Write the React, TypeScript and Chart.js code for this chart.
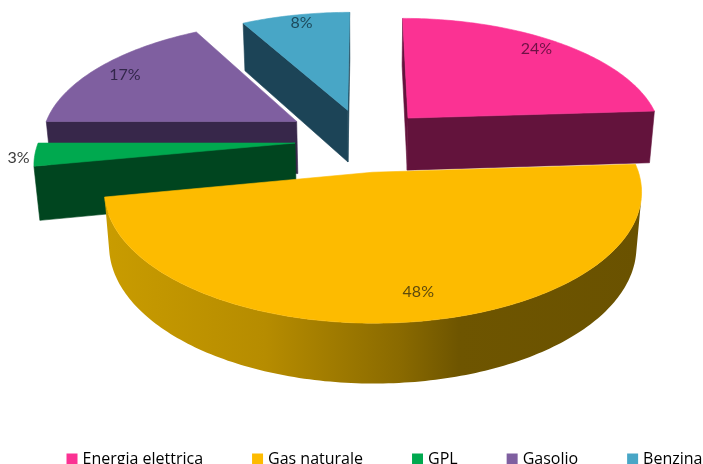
import React, { useEffect, useRef } from "react";
import { Chart, registerables } from "chart.js";

Chart.register(...registerables);

const categories = ["Energia elettrica", "Gas naturale", "GPL", "Gasolio", "Benzina"];
const shares = [24, 48, 3, 17, 8];

const topColors = ["#fb3293", "#fdbb00", "#00a94f", "#7f5fa0", "#48a6c6"];
const wallColors = ["#63133c", "#6a5200", "#00451f", "#37274a", "#1c4457"];
const labelColors = ["#6e1145", "#5e4a0c", "#3c3c3c", "#32264a", "#1d4a5c"];

// How far each slice is pulled out of the pie.
const explode = [66, 67, 69, 80, 68];

// Where each percentage sits along its slice, as a fraction of the radius,
// plus a small angular nudge in degrees.
const labelRadii = [0.884, 0.83, 1.06, 0.86, 0.905];
const labelNudges = [-2.3, -3, -1, -0.4, 0.5];

const TILT = Math.asin(0.467);
const FOCAL = 1603;
const WORLD_RADIUS = 256;
const THICKNESS = 61;
const PAN_X = -22;
const PAN_Y = -59.5;

type Pt = [number, number];

const pie3d = {
  id: "pie3d",
  beforeDatasetDraw(chart: any, args: any) {
    const ctx: CanvasRenderingContext2D = chart.ctx;
    const area = chart.chartArea;
    const camX = (area.left + area.right) / 2 + PAN_X;
    const camY = (area.top + area.bottom) / 2 + PAN_Y;
    const sinT = Math.sin(TILT);
    const cosT = Math.cos(TILT);

    const project = (x: number, y: number, z: number): Pt => {
      const up = y * sinT + z * cosT;
      const depth = y * cosT - z * sinT;
      const s = FOCAL / (FOCAL + depth);
      return [camX + x * s, camY - up * s];
    };

    const fillPoly = (pts: Pt[], color: any, edge = 0.6) => {
      ctx.beginPath();
      pts.forEach((p, i) => (i ? ctx.lineTo(p[0], p[1]) : ctx.moveTo(p[0], p[1])));
      ctx.closePath();
      ctx.fillStyle = color;
      ctx.fill();
      if (edge > 0) {
        ctx.strokeStyle = color;
        ctx.lineWidth = edge;
        ctx.stroke();
      }
    };

    const faces = (pts: Pt[]) => {
      let sum = 0;
      pts.forEach((p, i) => {
        const q = pts[(i + 1) % pts.length];
        sum += p[0] * q[1] - q[0] * p[1];
      });
      return sum < 0;
    };

    const slices = args.meta.data.map((arc: any, index: number) => {
      const { startAngle, endAngle } = arc.getProps(["startAngle", "endAngle"]);
      const mid = (startAngle + endAngle) / 2;
      const push = arc.options.offset;
      return {
        index,
        startAngle,
        endAngle,
        ox: Math.cos(mid) * push,
        oy: -Math.sin(mid) * push,
      };
    });

    // Painted from the far side of the pie towards the viewer.
    slices.sort((a: any, b: any) => b.oy - a.oy);

    for (const s of slices) {
      const steps = Math.max(6, Math.ceil(((s.endAngle - s.startAngle) * 180) / Math.PI));
      const world = (r: number, a: number, z: number): Pt =>
        project(s.ox + r * Math.cos(a), s.oy - r * Math.sin(a), z);

      const rimTop: Pt[] = [];
      const rimBottom: Pt[] = [];
      for (let i = 0; i <= steps; i++) {
        const a = s.startAngle + ((s.endAngle - s.startAngle) * i) / steps;
        rimTop.push(world(WORLD_RADIUS, a, 0));
        rimBottom.push(world(WORLD_RADIUS, a, -THICKNESS));
      }
      const apexTop = project(s.ox, s.oy, 0);
      const apexBottom = project(s.ox, s.oy, -THICKNESS);

      const wall = wallColors[s.index];
      const inward: Pt[] = [apexTop, rimTop[0], rimBottom[0], apexBottom];
      const outward: Pt[] = [rimTop[steps], apexTop, apexBottom, rimBottom[steps]];
      if (faces(inward)) fillPoly(inward, wall);
      if (faces(outward)) fillPoly(outward, wall);

      // The curved wall fades from light to dark across the pie.
      const minX = Math.min(...rimTop.map((p) => p[0]));
      const maxX = Math.max(...rimTop.map((p) => p[0]));
      const shade = ctx.createLinearGradient(minX, 0, maxX, 0);
      shade.addColorStop(0, "#c99c00");
      shade.addColorStop(0.3, "#b68c00");
      shade.addColorStop(0.55, "#8a6a00");
      shade.addColorStop(0.66, "#6e5500");
      shade.addColorStop(1, wall);
      const rimFill = s.index === 1 ? shade : wall;

      // Visible stretches of the curved wall are filled as one shape each.
      let run: number[] = [];
      const flush = () => {
        if (run.length > 1) {
          const upper = run.map((i) => rimTop[i]);
          const lower = run.map((i) => rimBottom[i]).reverse();
          fillPoly([...upper, ...lower], rimFill, 0);
        }
        run = [];
      };
      for (let i = 0; i < steps; i++) {
        const quad: Pt[] = [rimTop[i], rimTop[i + 1], rimBottom[i + 1], rimBottom[i]];
        if (faces(quad)) {
          if (!run.length) run.push(i);
          run.push(i + 1);
        } else {
          flush();
        }
      }
      flush();

      fillPoly([apexTop, ...rimTop], topColors[s.index]);
    }

    ctx.font = "16px Lato";
    ctx.textAlign = "center";
    ctx.textBaseline = "middle";
    for (const s of slices) {
      const nudge = (labelNudges[s.index] * Math.PI) / 180;
      const mid = (s.startAngle + s.endAngle) / 2 + nudge;
      const r = labelRadii[s.index] * WORLD_RADIUS;
      const p = project(s.ox + r * Math.cos(mid), s.oy - r * Math.sin(mid), 0);
      ctx.fillStyle = labelColors[s.index];
      ctx.fillText(`${shares[s.index]}%`, p[0], p[1]);
    }
    return false;
  },
};

export default function App() {
  const canvasRef = useRef<HTMLCanvasElement>(null);

  useEffect(() => {
    document.body.style.margin = "0";
    const chart = new Chart(canvasRef.current as HTMLCanvasElement, {
      type: "pie",
      data: {
        labels: categories,
        datasets: [
          {
            data: shares,
            backgroundColor: topColors,
            offset: explode,
          },
        ],
      },
      options: {
        responsive: false,
        animation: false,
        layout: { padding: 0 },
        plugins: {
          tooltip: { enabled: false },
          legend: {
            position: "bottom",
            labels: {
              boxWidth: 5,
              boxHeight: 5,
              padding: 52,
              color: "#404040",
              font: { family: "'Open Sans'", size: 16 },
              generateLabels: () =>
                categories.map((text, i) => ({
                  text,
                  index: i,
                  fillStyle: topColors[i],
                  strokeStyle: topColors[i],
                  lineWidth: 6,
                  hidden: false,
                })),
            },
          },
        },
      } as any,
      plugins: [pie3d],
    });
    return () => chart.destroy();
  }, []);

  return (
    <div style={{ position: "fixed", left: 0, top: 0, width: 703, height: 464, overflow: "hidden", background: "#fff" }}>
      <canvas ref={canvasRef} width={772} height={477} style={{ display: "block" }} />
    </div>
  );
}
